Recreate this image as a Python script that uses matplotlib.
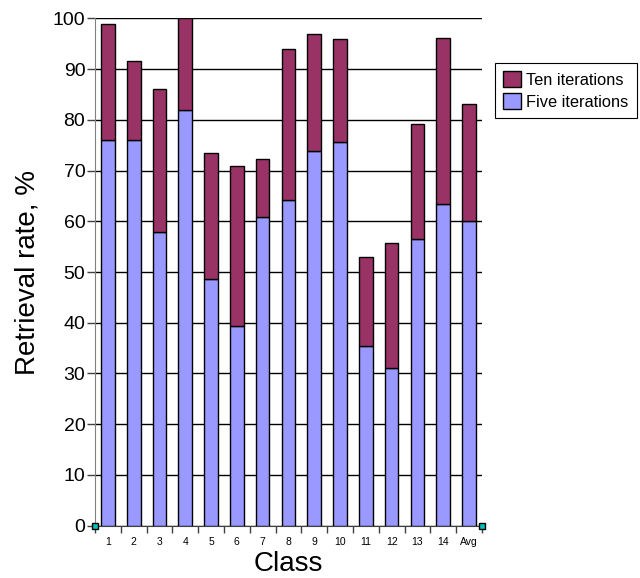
import matplotlib
matplotlib.use("Agg")
import matplotlib.pyplot as plt
import numpy as np

categories = ["1", "2", "3", "4", "5", "6", "7", "8", "9", "10", "11", "12", "13", "14", "Avg"]
five_iter = [76.0, 76.0, 57.8, 81.9, 48.6, 39.4, 60.9, 64.1, 73.9, 75.6, 35.5, 31.1, 56.6, 63.5, 60.1]
ten_iter_total = [98.8, 91.5, 86.1, 100.0, 73.5, 70.8, 72.2, 94.0, 97.0, 95.9, 53.0, 55.7, 79.2, 96.1, 83.2]
yticks = [0, 10, 20, 30, 40, 50, 60, 70, 80, 90, 100]

plt.rcParams['font.family'] = ['Liberation Sans', 'DejaVu Sans']

fig = plt.figure(figsize=(6.4, 5.78), dpi=100, facecolor='white')
ax = fig.add_axes([0.1484, 0.0905, 0.753 - 0.1484, 0.9683 - 0.0905])

x = np.arange(len(categories))
five = np.array(five_iter)
extra = np.array(ten_iter_total) - five
w = 0.53
ax.bar(x, five, width=w, color='#9999ff', edgecolor='black', linewidth=1, zorder=3,
       label='Five iterations')
ax.bar(x, extra, bottom=five, width=w, color='#993366', edgecolor='black', linewidth=1,
       zorder=3, label='Ten iterations')

ax.set_xlim(-0.5, len(categories) - 0.5)
ax.set_ylim(0, 100)
ax.set_yticks(yticks)
ax.set_yticklabels([str(t) for t in yticks], fontsize=14)
ax.yaxis.grid(True, color='black', linewidth=1, zorder=0)
ax.set_axisbelow(True)

ax.set_xticks(x)
ax.set_xticklabels(categories, fontsize=7.5)
ax.set_xticks(np.arange(len(categories) + 1) - 0.5, minor=True)
ax.tick_params(axis='x', which='major', length=0, pad=8)
ax.tick_params(axis='x', which='minor', length=5, width=1, color='#404040', direction='out')
ax.tick_params(axis='y', length=6, width=1, color='#404040', pad=1)

for s in ['top', 'right']:
    ax.spines[s].set_visible(False)
ax.spines['left'].set_color('#808080')
ax.spines['bottom'].set_color('#404040')

ax.plot([-0.5, len(categories) - 0.5], [0, 0], linestyle='none', marker='s', markersize=5,
        markerfacecolor='#00c0c0', markeredgecolor='black', clip_on=False, zorder=5)

ax.set_ylabel('Retrieval rate, %', fontsize=20, labelpad=9)
ax.set_xlabel('Class', fontsize=20, labelpad=3)

handles, labels = ax.get_legend_handles_labels()
leg = fig.legend(handles[::-1], labels[::-1], loc='upper left',
                 bbox_to_anchor=(495 / 640, 1 - 63 / 578), fontsize=11.8,
                 frameon=True, fancybox=False, edgecolor='black', framealpha=1,
                 handlelength=1.1, handleheight=1.1, handletextpad=0.3,
                 borderpad=0.5, labelspacing=0.35, borderaxespad=0)
leg.get_frame().set_linewidth(0.8)

fig.savefig('out.png', dpi=100, facecolor='white')
